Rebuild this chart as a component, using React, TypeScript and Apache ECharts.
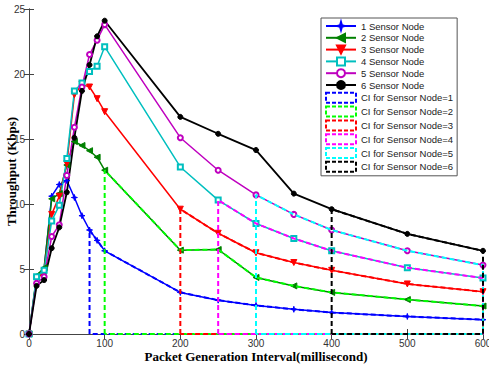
import React, { useEffect, useRef } from "react";
import * as echarts from "echarts";

const xValues = [0, 10, 20, 30, 40, 50, 60, 70, 80, 90, 100, 200, 250, 300, 350, 400, 500, 600];
const node1 = [0, 4.3, 5.0, 10.6, 11.5, 11.8, 10.5, 9.1, 8.0, 7.2, 6.4, 3.2, 2.6, 2.2, 1.9, 1.65, 1.35, 1.1];
const node2 = [0, 4.5, 5.1, 10.4, 10.8, 13.0, 14.8, 14.5, 14.1, 13.6, 12.6, 6.45, 6.5, 4.35, 3.7, 3.2, 2.65, 2.15];
const node3 = [0, 4.2, 4.8, 9.2, 10.6, 13.1, 18.4, 19.2, 19.0, 18.1, 17.1, 9.6, 7.75, 6.25, 5.5, 4.9, 3.85, 3.25];
const node4 = [0, 4.4, 4.9, 8.7, 9.9, 13.5, 18.7, 19.3, 20.2, 20.6, 22.1, 12.85, 10.3, 8.5, 7.35, 6.4, 5.1, 4.3];
const node5 = [0, 3.9, 4.4, 7.5, 8.4, 12.2, 15.9, 19.0, 21.5, 22.6, 23.8, 15.1, 12.6, 10.7, 9.2, 8.0, 6.4, 5.3];
const node6 = [0, 3.7, 4.15, 6.6, 8.2, 10.9, 15.1, 18.7, 20.7, 22.9, 24.1, 16.7, 15.4, 14.15, 10.8, 9.6, 7.7, 6.4];

const seriesNames = ["1 Sensor Node", "2 Sensor Node", "3 Sensor Node", "4 Sensor Node", "5 Sensor Node", "6 Sensor Node"];
const ciNames = [
  "CI for Sensor Node=1",
  "CI for Sensor Node=2",
  "CI for Sensor Node=3",
  "CI for Sensor Node=4",
  "CI for Sensor Node=5",
  "CI for Sensor Node=6",
];
const ciStart = [80, 100, 200, 250, 300, 400];

const allNodes = [node1, node2, node3, node4, node5, node6];
const lineColors = ["#0000ff", "#008000", "#ff0000", "#00bfbf", "#bf00bf", "#000000"];
const ciColors = ["#0000ff", "#00ff00", "#ff0000", "#ff00ff", "#00ffff", "#000000"];
const symbols = [
  "path://M0,-5L1.1,-1.1L5,0L1.1,1.1L0,5L-1.1,1.1L-5,0L-1.1,-1.1Z",
  "path://M0,5L10,0L10,10Z",
  "path://M0,0L10,0L5,9Z",
  "emptyRect",
  "emptyCircle",
  "circle",
];
const symbolSizes = [6, 6, 6, 5, 5, 5];

export default function App() {
  const ref = useRef<HTMLDivElement>(null);
  useEffect(() => {
    if (!ref.current) return;
    const chart = echarts.init(ref.current, undefined, { renderer: "svg" });
    const maxX = xValues[xValues.length - 1];

    const lineSeries = allNodes.map((vals, i) => ({
      name: seriesNames[i],
      type: "line",
      data: xValues.map((x, j) => [x, vals[j]]),
      symbol: symbols[i],
      symbolSize: symbolSizes[i],
      color: lineColors[i],
      lineStyle: { color: lineColors[i], width: i === 5 ? 1.8 : 1.5 },
      itemStyle: { color: lineColors[i], borderColor: lineColors[i], borderWidth: 1 },
      z: 2,
    }));

    const ciSeries = allNodes.map((vals, i) => {
      const x0 = ciStart[i];
      const pts: number[][] = [[x0, 0]];
      xValues.forEach((x, j) => {
        if (x >= x0) pts.push([x, vals[j]]);
      });
      pts.push([maxX, 0]);
      pts.push([x0, 0]);
      return {
        name: ciNames[i],
        type: "line",
        data: pts,
        symbol: "none",
        color: ciColors[i],
        lineStyle: { color: ciColors[i], width: 2, type: [5, 3] },
        z: 3,
      };
    });

    const axisLineStyle = { color: "#444", width: 1 };
    const labelStyle = { color: "#333", fontSize: 10, fontFamily: "Liberation Sans, Arial, sans-serif" };

    chart.setOption({
      animation: false,
      backgroundColor: "#fff",
      grid: { left: 29, right: 6, top: 9, bottom: 34, containLabel: false, outerBoundsMode: "none" },
      legend: {
        orient: "vertical",
        left: 321,
        top: 18,
        padding: [3, 4, 3, 4],
        itemGap: 1.8,
        itemWidth: 30,
        itemHeight: 10,
        borderColor: "#555",
        borderWidth: 1,
        backgroundColor: "#fff",
        textStyle: { fontSize: 9.5, lineHeight: 10, color: "#222", fontFamily: "Liberation Sans, Arial, sans-serif" },
        data: [
          ...seriesNames.map((n) => ({ name: n })),
          ...ciNames.map((n, i) => ({
            name: n,
            icon: "rect",
            itemStyle: { color: "rgba(255,255,255,0)", borderColor: ciColors[i], borderWidth: 2, borderType: [4, 2] },
          })),
        ],
      },
      xAxis: [
        {
          type: "value",
          min: 0,
          max: 600,
          interval: 100,
          name: "Packet Generation Interval(millisecond)",
          nameLocation: "middle",
          nameGap: 16,
          nameMoveOverlap: false,
          nameTextStyle: { fontFamily: "Liberation Serif, Times New Roman, serif", fontWeight: "bold", fontSize: 13, color: "#000" },
          axisLine: { show: true, lineStyle: axisLineStyle },
          axisTick: { show: true, inside: true, length: 5, lineStyle: axisLineStyle },
          axisLabel: { ...labelStyle, margin: 4 },
          splitLine: { show: false },
        },
        {
          type: "value",
          position: "top",
          min: 0,
          max: 600,
          interval: 100,
          axisLine: { show: true, lineStyle: axisLineStyle },
          axisTick: { show: true, inside: true, length: 5, lineStyle: axisLineStyle },
          axisLabel: { show: false },
          splitLine: { show: false },
        },
      ],
      yAxis: [
        {
          type: "value",
          min: 0,
          max: 25,
          interval: 5,
          name: "Throughput (Kbps)",
          nameLocation: "middle",
          nameGap: 11,
          nameMoveOverlap: false,
          nameTextStyle: { fontFamily: "Liberation Serif, Times New Roman, serif", fontWeight: "bold", fontSize: 13, color: "#000" },
          axisLine: { show: true, lineStyle: axisLineStyle },
          axisTick: { show: true, inside: true, length: 5, lineStyle: axisLineStyle },
          axisLabel: { ...labelStyle, margin: 4 },
          splitLine: { show: false },
        },
        {
          type: "value",
          position: "right",
          min: 0,
          max: 25,
          interval: 5,
          axisLine: { show: true, lineStyle: axisLineStyle },
          axisTick: { show: true, inside: true, length: 5, lineStyle: axisLineStyle },
          axisLabel: { show: false },
          splitLine: { show: false },
        },
      ],
      series: [...lineSeries, ...ciSeries],
    });
    return () => chart.dispose();
  }, []);
  return <div ref={ref} style={{ position: "fixed", left: 0, top: 0, width: 489, height: 368 }} />;
}
